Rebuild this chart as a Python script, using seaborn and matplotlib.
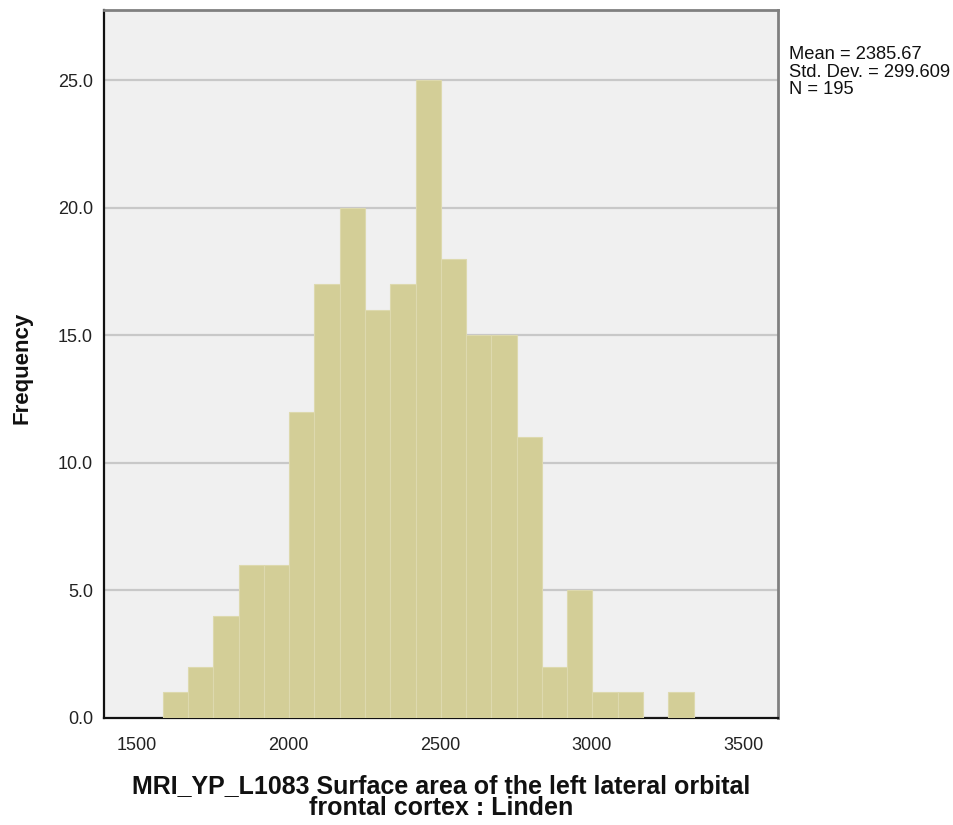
import numpy as np
import pandas as pd
import matplotlib
matplotlib.use("Agg")
import matplotlib.pyplot as plt
import seaborn as sns

# Histogram data
bin_start = 1585.0
bin_width = 83.4
counts = [1, 2, 4, 6, 6, 12, 17, 20, 16, 17, 25, 18, 15, 15, 11, 2, 5, 1, 1, 0, 1]
x_ticks = [1500, 2000, 2500, 3000, 3500]
y_ticks = [0, 5, 10, 15, 20, 25]
stats_lines = ["Mean = 2385.67", "Std. Dev. = 299.609", "N = 195"]
x_label = "MRI_YP_L1083 Surface area of the left lateral orbital\nfrontal cortex : Linden"
y_label = "Frequency"

edges = [float(bin_start + bin_width * i) for i in range(len(counts) + 1)]
centers = [(edges[i] + edges[i + 1]) / 2 for i in range(len(counts))]
df = pd.DataFrame({"value": centers, "count": counts})

sns.set_style("white")
plt.rcParams["font.family"] = ["Liberation Sans", "DejaVu Sans"]

fig = plt.figure(figsize=(9.54, 8.25), dpi=100)
ax = fig.add_axes([104/954, 1 - 718/825, (778-104)/954, (718-10)/825])
ax.set_facecolor("#F0F0F0")

sns.histplot(data=df, x="value", weights="count", bins=edges, ax=ax,
             color="#D3CE97", alpha=1.0, edgecolor="#DDD9AE", linewidth=0.8,
             zorder=3)

ax.set_xlim(1391, 3615)
ax.set_ylim(0, 27.75)
ax.set_xticks(x_ticks)
ax.set_xticklabels([str(t) for t in x_ticks])
ax.set_yticks(y_ticks)
ax.set_yticklabels([f"{t:.1f}" for t in y_ticks])
ax.tick_params(axis="both", length=0, labelsize=13, colors="#222222", pad=8)
ax.tick_params(axis="x", pad=14)

for t in y_ticks[1:]:
    ax.axhline(t, color="#C8C8C8", linewidth=1.6, zorder=1)

for side in ["left", "bottom"]:
    ax.spines[side].set_color("#111111")
    ax.spines[side].set_linewidth(1.6)
for side in ["top", "right"]:
    ax.spines[side].set_color("#808080")
    ax.spines[side].set_linewidth(2.0)

ax.set_xlabel("")
ax.set_ylabel("")

fig.text(441/954, 1 - 774/825, x_label, fontsize=18, fontweight="bold",
         ha="center", va="top", linespacing=0.92, color="#111111")
fig.text(22/954, 1 - 368/825, y_label, fontsize=16, fontweight="bold",
         ha="center", va="center", rotation=90, color="#111111")

fig.text(789/954, 1 - 46/825, "\n".join(stats_lines), fontsize=13.2,
         ha="left", va="top", linespacing=1.05, color="#111111")

fig.savefig("out.png", dpi=100, facecolor="white")
